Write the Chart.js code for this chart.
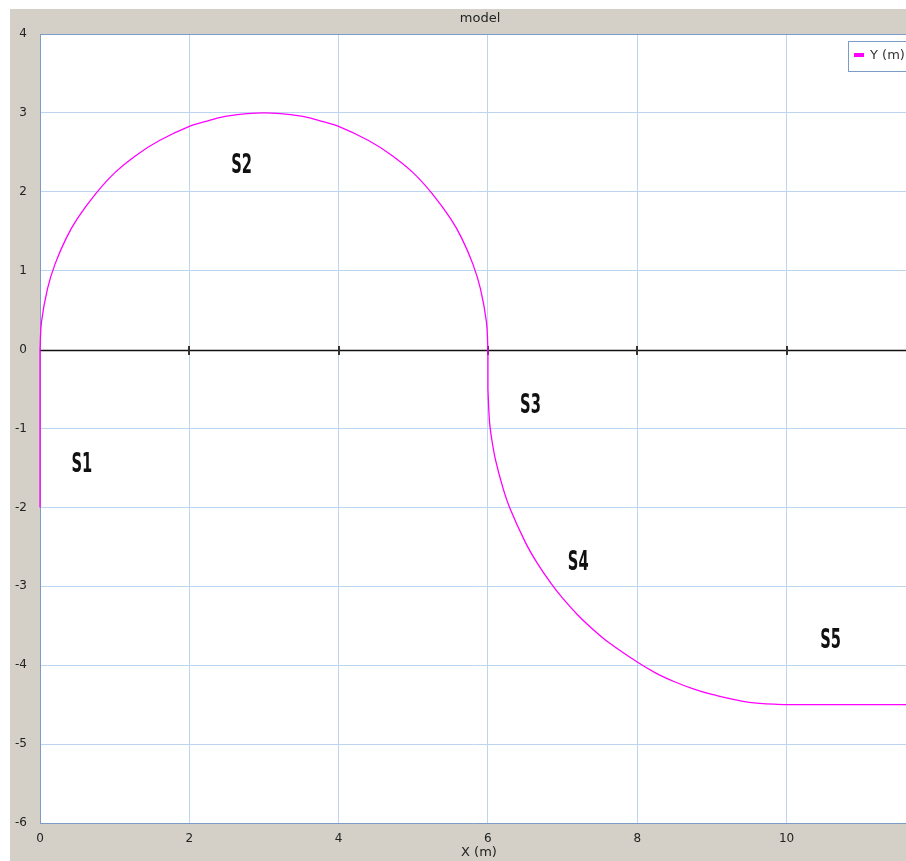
<!DOCTYPE html>
<html>
<head>
<meta charset="utf-8">
<title>model</title>
<script src="https://cdn.jsdelivr.net/npm/chart.js@4.4.1/dist/chart.umd.min.js"></script>
<style>
  html, body { margin: 0; padding: 0; background: #fff; }
  #wrap { width: 906px; height: 861px; }
</style>
</head>
<body>
<div id="wrap"><canvas id="myChartPath"></canvas></div>
<script>
// path sections, X (m) / Y (m)
const s1X = [0, 0];
const s1Y = [-2, 0];
const s2X = [0, 0.02, 0.1, 0.2, 0.35, 0.5, 0.75, 1, 1.3, 1.6, 2, 2.25, 2.5, 3, 3.5, 3.75, 4, 4.4, 4.7, 5, 5.25, 5.5, 5.65, 5.8, 5.9, 5.98, 6];
const s2Y = [0, 0.35, 0.77, 1.08, 1.41, 1.66, 1.98, 2.24, 2.47, 2.65, 2.83, 2.9, 2.96, 3, 2.96, 2.9, 2.83, 2.65, 2.47, 2.24, 1.98, 1.66, 1.41, 1.08, 0.77, 0.35, 0];
const s3X = [6, 6];
const s3Y = [0, -0.5];
const s4X = [6, 6.02, 6.05, 6.1, 6.2, 6.29, 6.5, 6.65, 6.85, 7, 7.2, 7.4, 7.6, 8, 8.25, 8.5, 8.75, 9, 9.5, 10];
const s4Y = [-0.5, -0.9, -1.13, -1.39, -1.75, -2, -2.44, -2.69, -2.97, -3.15, -3.36, -3.54, -3.7, -3.96, -4.1, -4.21, -4.3, -4.37, -4.47, -4.5];
const s5X = [10, 11.6];
const s5Y = [-4.5, -4.5];

const xTicks = [0, 2, 4, 6, 8, 10];
const yTicks = [-6, -5, -4, -3, -2, -1, 0, 1, 2, 3, 4];

const sectionNames = ['S1', 'S2', 'S3', 'S4', 'S5'];
const sectionX = [0.56, 2.70, 6.57, 7.21, 10.59];
const sectionY = [-1.45, 2.34, -0.70, -2.69, -3.68];

const pathX = [].concat(s1X, s2X, s3X, s4X, s5X);
const pathY = [].concat(s1Y, s2Y, s3Y, s4Y, s5Y);
const pathPoints = pathX.map((x, i) => ({ x: x, y: pathY[i] }));

const GREY = '#d4d0c8';
const FRAME = '#7a9cc6';
const GRID = '#bcd6f2';
const MAGENTA = '#ff00ff';
const FONT = '"DejaVu Sans", sans-serif';

const panel = {
  id: 'panel',
  beforeDraw(chart) {
    const { ctx, width, height, chartArea: a } = chart;
    ctx.save();
    ctx.fillStyle = '#ffffff';
    ctx.fillRect(0, 0, width, height);
    ctx.fillStyle = GREY;
    ctx.fillRect(10, 9, width - 10, height - 9);
    ctx.fillStyle = '#ffffff';
    ctx.fillRect(a.left, a.top, a.right - a.left, a.bottom - a.top);

    ctx.fillStyle = '#222';
    ctx.font = '13px ' + FONT;
    ctx.textAlign = 'center';
    ctx.textBaseline = 'middle';
    ctx.fillText('model', 480, 19);
    ctx.fillText('X (m)', 479, 853);
    ctx.restore();
  },
  beforeDatasetsDraw(chart) {
    const { ctx, chartArea: a, scales } = chart;
    ctx.save();
    // top frame line
    ctx.strokeStyle = FRAME;
    ctx.lineWidth = 1;
    ctx.beginPath();
    ctx.moveTo(a.left, a.top + 0.5);
    ctx.lineTo(a.right, a.top + 0.5);
    ctx.stroke();

    // x axis through y = 0 with small ticks
    const y0 = Math.round(scales.y.getPixelForValue(0)) + 0.5;
    ctx.strokeStyle = '#111';
    ctx.lineWidth = 1.5;
    ctx.beginPath();
    ctx.moveTo(a.left, y0);
    ctx.lineTo(a.right, y0);
    ctx.stroke();
    ctx.lineWidth = 2;
    ctx.strokeStyle = '#333';
    ctx.beginPath();
    xTicks.forEach(v => {
      if (v === 0) return;
      const px = Math.round(scales.x.getPixelForValue(v));
      ctx.moveTo(px, y0 - 4.5);
      ctx.lineTo(px, y0 + 4.5);
    });
    ctx.stroke();
    ctx.restore();
  },
  afterDatasetsDraw(chart) {
    const { ctx, chartArea: a, scales } = chart;
    ctx.save();
    // section names
    ctx.fillStyle = '#111';
    ctx.font = 'bold 24px "DejaVu Sans Condensed", "Liberation Sans Narrow", sans-serif';
    ctx.textAlign = 'center';
    ctx.textBaseline = 'middle';
    sectionNames.forEach((name, i) => {
      const px = scales.x.getPixelForValue(sectionX[i]);
      const py = scales.y.getPixelForValue(sectionY[i]);
      ctx.save();
      ctx.translate(px, py + 1);
      ctx.scale(0.68, 1.08);
      ctx.fillText(name, 0, 0);
      ctx.restore();
    });

    // legend box
    const lx = a.right - 58, ly = a.top + 7;
    ctx.fillStyle = '#ffffff';
    ctx.fillRect(lx, ly, 80, 30);
    ctx.strokeStyle = FRAME;
    ctx.lineWidth = 1;
    ctx.strokeRect(lx + 0.5, ly + 0.5, 80, 30);
    ctx.fillStyle = MAGENTA;
    ctx.fillRect(lx + 6, ly + 12, 10, 4);
    ctx.fillStyle = '#333';
    ctx.font = '13px ' + FONT;
    ctx.textAlign = 'left';
    ctx.fillText(chart.data.datasets[0].label, lx + 22, ly + 15);
    ctx.restore();
  }
};

const ctx = document.getElementById('myChartPath');
new Chart(ctx, {
  type: 'scatter',
  data: {
    datasets: [{
      label: 'Y (m)',
      data: pathPoints,
      showLine: true,
      borderColor: MAGENTA,
      backgroundColor: MAGENTA,
      borderWidth: 1.3,
      pointRadius: 0,
      tension: 0.35,
      clip: 2
    }]
  },
  options: {
    responsive: true,
    maintainAspectRatio: false,
    animation: false,
    events: [],
    layout: { padding: { top: 34, left: 0, right: 0, bottom: 0 } },
    plugins: {
      legend: { display: false },
      title: { display: false },
      tooltip: { enabled: false }
    },
    scales: {
      x: {
        type: 'linear',
        min: 0,
        max: 11.6,
        afterBuildTicks: s => { s.ticks = xTicks.map(v => ({ value: v })); },
        afterFit: s => { s.height = 38; },
        ticks: { color: '#222', font: { family: FONT, size: 12 }, padding: 9, autoSkip: false, maxRotation: 0 },
        grid: { color: GRID, drawTicks: false },
        border: { display: true, color: FRAME }
      },
      y: {
        type: 'linear',
        min: -6,
        max: 4,
        afterBuildTicks: s => { s.ticks = yTicks.map(v => ({ value: v })); },
        afterFit: s => { s.width = 40; },
        ticks: { color: '#222', font: { family: FONT, size: 12 }, padding: 13, autoSkip: false },
        grid: { color: c => (c.tick && c.tick.value === 0 ? 'rgba(0,0,0,0)' : GRID), drawTicks: false },
        border: { display: true, color: FRAME }
      }
    }
  },
  plugins: [panel]
});
</script>
</body>
</html>
